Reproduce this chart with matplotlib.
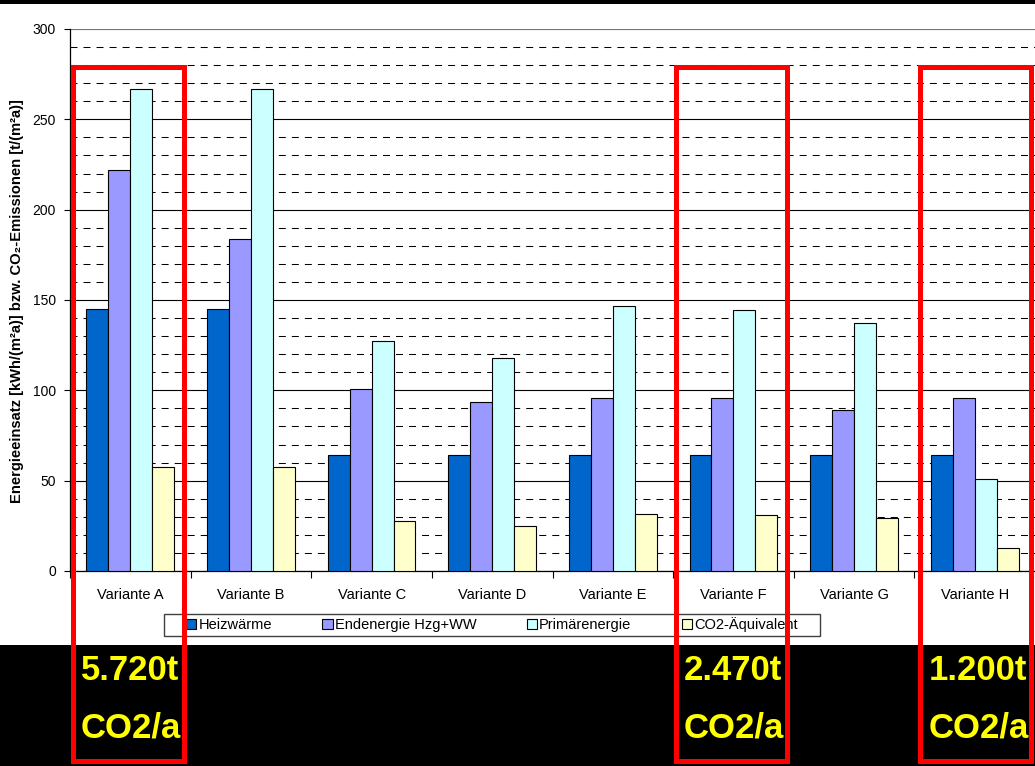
import numpy as np
import matplotlib
matplotlib.use('Agg')
import matplotlib.pyplot as plt
from matplotlib.patches import Rectangle

plt.rcParams['font.family'] = ['Liberation Sans', 'DejaVu Sans']

# Energy use and CO2 per variant
variants = ['Variante A', 'Variante B', 'Variante C', 'Variante D',
            'Variante E', 'Variante F', 'Variante G', 'Variante H']
heizwaerme = [145, 145, 64, 64, 64, 64, 64, 64]
endenergie = [222, 184, 101, 93.5, 96, 96, 89, 96]
primaerenergie = [267, 267, 127.5, 118, 146.5, 144.5, 137.5, 51]
co2_aequivalent = [57.5, 57.5, 27.5, 25, 31.5, 31, 29.5, 13]

series_names = ['Heizwärme', 'Endenergie Hzg+WW', 'Primärenergie', 'CO2-Äquivalent']
series_colors = ['#0066CC', '#9999FF', '#CCFFFF', '#FFFFCC']

# highlighted variants and their yearly CO2
marked = ['Variante A', 'Variante F', 'Variante H']
marked_co2 = ['5.720t', '2.470t', '1.200t']

W, H = 1035, 766
fig = plt.figure(figsize=(W / 100, H / 100), dpi=100)
fig.patch.set_facecolor('white')

ax = fig.add_axes([70 / W, 1 - 571 / H, 1 - 70 / W, (571 - 29) / H])
x = np.arange(len(variants))
bw = 0.182
series = [heizwaerme, endenergie, primaerenergie, co2_aequivalent]
bars = []
for i, (vals, col, name) in enumerate(zip(series, series_colors, series_names)):
    b = ax.bar(x + (i - 1.5) * bw, vals, width=bw, color=col,
               edgecolor='black', linewidth=0.8, label=name, zorder=3)
    bars.append(b)

ax.set_xlim(-0.5, len(variants) - 0.5)
ax.set_ylim(0, 300)
ax.set_yticks(np.arange(0, 301, 50))
ax.set_yticks(np.arange(0, 301, 10), minor=True)
ax.tick_params(axis='y', which='major', length=4, width=0.8, pad=6,
               labelsize=10, colors='black')
ax.tick_params(axis='y', which='minor', length=0)
ax.set_xticks(x)
ax.set_xticklabels(variants, fontsize=10.5)
ax.set_xticks(np.arange(-0.5, len(variants), 1), minor=True)
ax.tick_params(axis='x', which='major', length=0, pad=12)
ax.tick_params(axis='x', which='minor', length=5, width=0.8)

ax.grid(axis='y', which='major', color='black', linewidth=0.8, zorder=0)
ax.grid(axis='y', which='minor', color='black', linewidth=0.75,
        linestyle=(0, (6.7, 5.8)), zorder=0)
ax.set_axisbelow(True)
for side in ['right', 'top']:
    ax.spines[side].set_visible(False)
ax.spines['left'].set_linewidth(0.9)
ax.spines['bottom'].set_linewidth(0.9)
ax.axhline(300, color='#909090', linewidth=1.2, zorder=1)

fig.text(17 / W, 1 - 301 / H,
         'Energieeinsatz [kWh/(m²a)] bzw. CO₂-Emissionen [t/(m²a)]',
         rotation=90, ha='center', va='center', fontsize=10.6, fontweight='bold')

# legend entries without frame, box drawn separately with wider margins
leg = fig.legend(handles=bars, labels=series_names, loc='center',
                 bbox_to_anchor=(492 / W, 1 - 625 / H), ncol=4, fontsize=10.5,
                 frameon=False, handlelength=0.7, handleheight=0.7,
                 handletextpad=0.15, columnspacing=3.45, borderpad=0.25,
                 borderaxespad=0)
fig.patches.append(Rectangle((164 / W, 1 - 636 / H), (820 - 164) / W, 22 / H,
                             transform=fig.transFigure, facecolor='white',
                             edgecolor='#404040', linewidth=1.0, zorder=1))

# black bands at top and bottom
fig.patches.append(Rectangle((0, 1 - 4 / H), 1, 4 / H, transform=fig.transFigure,
                             facecolor='black', edgecolor='none', zorder=0))
fig.patches.append(Rectangle((0, 0), 1, (H - 645) / H, transform=fig.transFigure,
                             facecolor='black', edgecolor='none', zorder=0))

# red frames around the marked variants with the CO2 totals below
frame_x = {'Variante A': (72.5, 183.5), 'Variante F': (675.5, 786.5),
           'Variante H': (920, 1030.5)}
for name, co2 in zip(marked, marked_co2):
    x0, x1 = frame_x[name]
    fig.patches.append(Rectangle((x0 / W, 1 - 761 / H), (x1 - x0) / W,
                                 (761 - 66.5) / H, transform=fig.transFigure,
                                 facecolor='none', edgecolor='#FF0000',
                                 linewidth=3.6, zorder=10))
    fig.text((x0 + 8.5) / W, 1 - 670 / H, co2, color='#FFFF00', fontsize=25,
             fontweight='bold', ha='left', va='center', zorder=11)
    fig.text((x0 + 8.5) / W, 1 - 728 / H, 'CO2/a', color='#FFFF00', fontsize=25,
             fontweight='bold', ha='left', va='center', zorder=11)

fig.savefig('out.png', dpi=100)
